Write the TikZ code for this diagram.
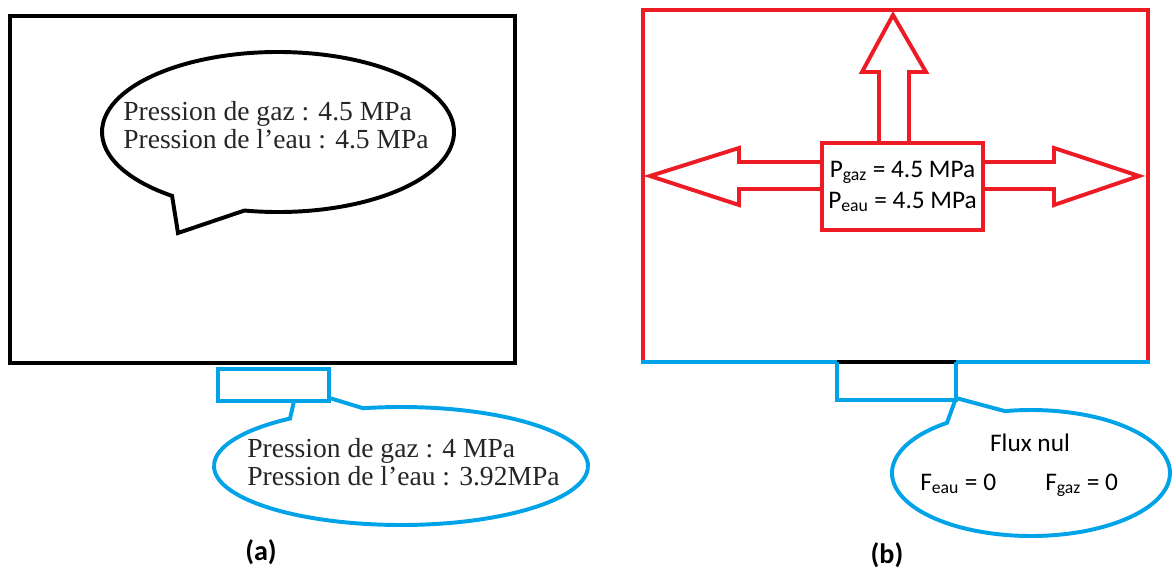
\documentclass[tikz,border=0pt]{standalone}
\usepackage{fontspec}
\setmainfont{Liberation Serif}
\setsansfont{Carlito}
\usetikzlibrary{calc}

\definecolor{rougeP}{RGB}{237,28,36}
\definecolor{bleuP}{RGB}{0,162,232}

\begin{document}
\begin{tikzpicture}[x=0.025cm,y=0.025cm,
  trait/.style={line width=2.8pt},
  serif/.style={font=\fontsize{19.6}{19.6}\selectfont,text=black!85,align=left,inner sep=0pt},
  sans/.style={font=\sffamily\fontsize{18}{22}\selectfont,inner sep=0pt},
  titre/.style={font=\sffamily\bfseries\fontsize{20}{24}\selectfont}]
\useasboundingbox (0,0) rectangle (1172,-572);
% (a)
\begin{scope}
  \draw[trait] (10,-16) rectangle (515,-363);
  \coordinate (bulleA) at (278,-132);
  \coordinate (pointeA) at (178,-233);
  \draw[trait] ($(bulleA)+(259:176 and 80)$) arc[start angle=259,end angle=593,x radius=176,y radius=80] -- (pointeA) -- cycle;
  \node[serif,anchor=west] (texteA) at (123,-125) {Pression de gaz : 4.5 MPa\\Pression de l’eau : 4.5 MPa};
  \coordinate (bulleB) at (401,-466);
  \coordinate (pointeB) at (297,-388);
  \draw[trait,bleuP] ($(bulleB)+(126.4:187 and 59)$) arc[start angle=126.4,end angle=461.7,x radius=187,y radius=59] -- (pointeB) -- cycle;
  \draw[trait,bleuP,fill=white] (218,-369) rectangle (329,-401);
  \node[serif,anchor=west] (texteB) at (247,-462) {Pression de gaz : 4 MPa\\Pression de l’eau : 3.92MPa};
  \node[titre] (labA) at (261,-552) {(a)};
\end{scope}
% (b)
\begin{scope}
  \draw[trait,rougeP] (643,-362) -- (643,-10) -- (1148,-10) -- (1148,-362);
  \draw[trait,bleuP] (641,-362) -- (1150,-362);
  \draw[line width=2.2pt] (837,-362) -- (956,-362);
  \draw[trait,bleuP] (837,-362) -- (837,-400) -- (956,-400) -- (956,-362);
  \node[sans,draw=rougeP,trait,align=center,minimum width=4.025cm,minimum height=2.175cm] (pression) at (902.5,-186.5)
    {P\textsubscript{gaz} = 4.5 MPa\\P\textsubscript{eau} = 4.5 MPa};
  \draw[trait,rougeP] (879,0 |- pression.north) -- (879,-72) -- (862,-72) -- (893,-15) -- (926,-72) -- (909,-72) -- (909,0 |- pression.north);
  \draw[trait,rougeP] (pression.west |- 0,-162) -- (739,-162) -- (739,-148) -- (650,-176) -- (739,-205) -- (739,-189) -- (pression.west |- 0,-189);
  \draw[trait,rougeP] (pression.east |- 0,-162) -- (1054,-162) -- (1054,-148) -- (1139,-176) -- (1054,-205) -- (1054,-189) -- (pression.east |- 0,-189);
  \coordinate (bulleC) at (1031,-473);
  \coordinate (pointeC) at (956,-398);
  \draw[trait,bleuP] ($(bulleC)+(127.2:139 and 63)$) arc[start angle=127.2,end angle=460.8,x radius=139,y radius=63] -- (pointeC) -- cycle;
  \node[sans] (flux) at (1030,-443) {Flux nul};
  \node[sans,anchor=base west] (feau) at (920,-490) {F\textsubscript{eau} = 0};
  \node[sans,anchor=base west] (fgaz) at (1045,-490) {F\textsubscript{gaz} = 0};
  \node[titre] (labB) at (887,-555) {(b)};
\end{scope}
\end{tikzpicture}
\end{document}
